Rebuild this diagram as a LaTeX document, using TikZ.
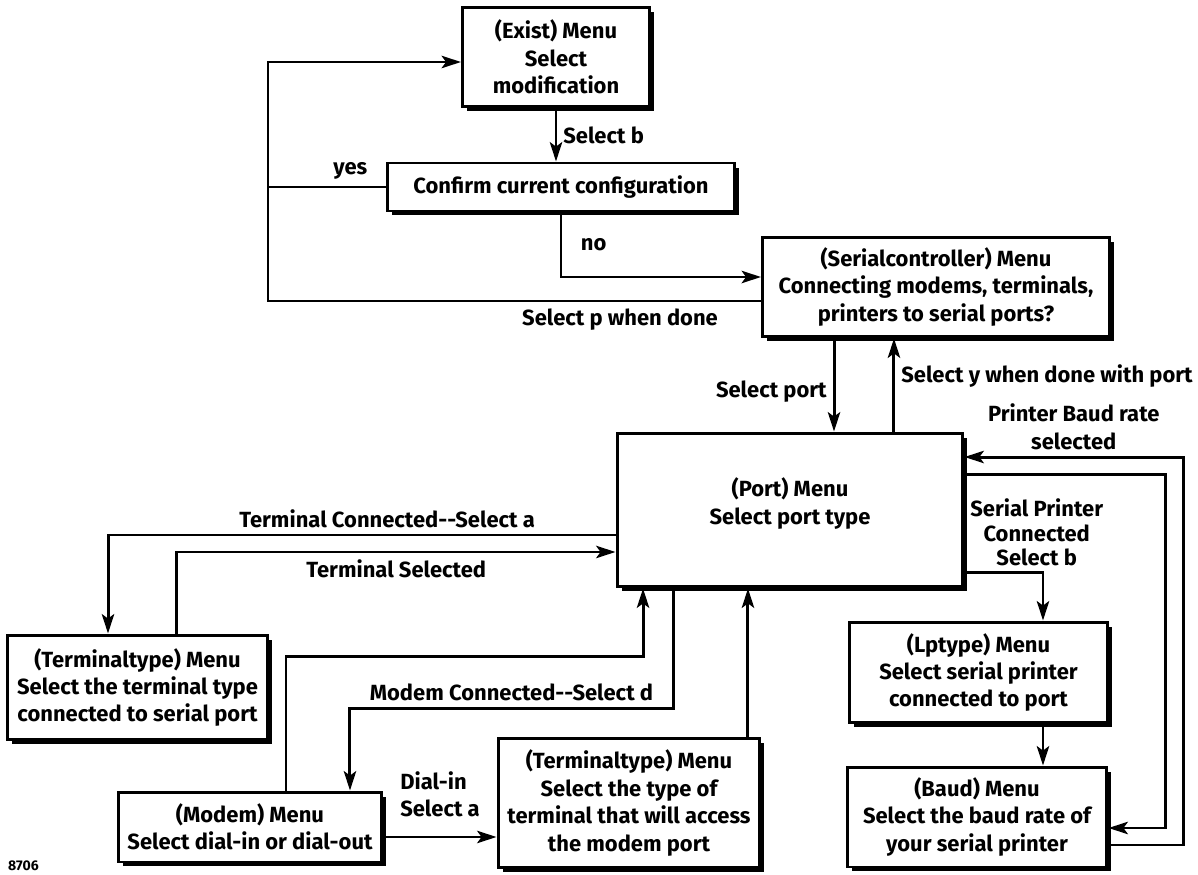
\documentclass[tikz,border=0pt]{standalone}
\usepackage{fontspec}
\setmainfont{Fira Sans}
\usetikzlibrary{arrows.meta, shadows}

\begin{document}
\begin{tikzpicture}[x=0.02cm, y=-0.02cm,
    font=\fontsize{12.5}{15.6}\selectfont\bfseries,
    menu/.style={draw, line width=1.7pt, fill=white, align=center, inner sep=0pt,
        drop shadow={shadow xshift=0.09cm, shadow yshift=-0.09cm, opacity=1, fill=black}},
    wire/.style={line width=1.7pt},
    link/.style={wire, -{Stealth[length=11pt, width=7pt, inset=2.5pt]}}]
    \useasboundingbox (0,0) rectangle (1198,875);

    \node[menu, minimum width=3.74cm, minimum height=2cm] (exist) at (556,57) {(Exist) Menu\\Select\\modification};
    \node[menu, minimum width=6.96cm, minimum height=0.96cm] (confirm) at (561,187) {Confirm current configuration};
    \node[menu, minimum width=6.94cm, minimum height=2cm] (serial) at (936,287) {(Serialcontroller) Menu\\Connecting modems, terminals,\\printers to serial ports?};
    \node[menu, minimum width=6.92cm, minimum height=3.08cm] (port) at (790,510) {(Port) Menu\\[0.6pt]Select port type\\[-5.6pt]\mbox{}};
    \node[menu, minimum width=5.22cm, minimum height=2.1cm] (termtype) at (137.5,687.5) {(Terminaltype) Menu\\Select the terminal type\\connected to serial port};
    \node[menu, minimum width=5.28cm, minimum height=1.4cm] (modem) at (250,827) {(Modem) Menu\\Select dial-in or dial-out};
    \node[menu, minimum width=5.24cm, minimum height=2.6cm] (dialin) at (629,803) {(Terminaltype) Menu\\Select the type of\\terminal that will access\\the modem port};
    \node[menu, minimum width=5.18cm, minimum height=2.02cm] (lptype) at (978.5,672.5) {(Lptype) Menu\\Select serial printer\\connected to port};
    \node[menu, minimum width=5.2cm, minimum height=2cm] (baud) at (977,817) {(Baud) Menu\\Select the baud rate of\\your serial printer};
    \node[anchor=west, font=\fontsize{8}{9}\selectfont\bfseries] (fignum) at (2,866) {8706};

    \coordinate (back) at (268,187);
    \coordinate (inner) at (1165,650);
    \coordinate (outer) at (1183,650);

    \draw[link] (exist.south) -- node[midway, right] {Select b} (exist.south |- confirm.north);
    \draw[wire] (confirm.west) -- node[pos=0.3, above] {yes} (back);
    \draw[link] ([yshift=-0.28cm]serial.west) -| node[pos=0.143, below] {Select p when done} (back) |- ([yshift=-0.1cm]exist.west);
    \draw[link] (confirm.south) |- node[pos=0.25, right=0.25cm] {no} ([yshift=0.2cm]serial.west);
    \draw[link] ([xshift=-2.04cm]serial.south) -- node[pos=0.57, left] {Select port} ([xshift=-2.04cm]serial.south |- port.north);
    \draw[link] ([xshift=2.08cm]port.north) -- node[pos=0.6, right] {Select y when done with port} ([xshift=2.08cm]port.north |- serial.south);
    \draw[link] ([yshift=-0.5cm]port.west) -| node[pos=0.225, above] {Terminal Connected-{}-Select a} ([xshift=-0.59cm]termtype.north);
    \draw[link] ([xshift=0.79cm]termtype.north) |- node[pos=0.75, below] {Terminal Selected} ([yshift=-0.84cm]port.west);
    \draw[link] ([xshift=0.72cm]modem.north) -- ++(0,-134) -| ([xshift=-2.94cm]port.south);
    \draw[link] ([xshift=-2.34cm]port.south) -- ++(0,120) -| node[pos=0.25, above] {Modem Connected-{}-Select d} ([xshift=2cm]modem.north);
    \draw[link] ([yshift=-0.2cm]modem.east) -- node[midway, above=0.25cm, align=left] {Dial-in\\Select a} ([yshift=-0.2cm]modem.east -| dialin.west);
    \draw[link] ([xshift=2.38cm]dialin.north) -- ([xshift=2.38cm]dialin.north |- port.south);
    \draw[link] ([yshift=-1.26cm]port.east) -| node[pos=0.46, above, align=center, font=\fontsize{12.5}{13.8}\selectfont\bfseries] {Serial Printer\\Connected\\Select b} ([xshift=1.29cm]lptype.north);
    \draw[link] ([xshift=1.29cm]lptype.south) -- ([xshift=1.29cm]lptype.south |- baud.north);
    \draw[link] ([yshift=0.72cm]port.east) -| (inner) |- ([yshift=-0.22cm]baud.east);
    \draw[link] ([yshift=-0.56cm]baud.east) -| (outer) |- node[pos=0.75, above, align=center] {Printer Baud rate\\selected} ([yshift=1.06cm]port.east);
\end{tikzpicture}
\end{document}
